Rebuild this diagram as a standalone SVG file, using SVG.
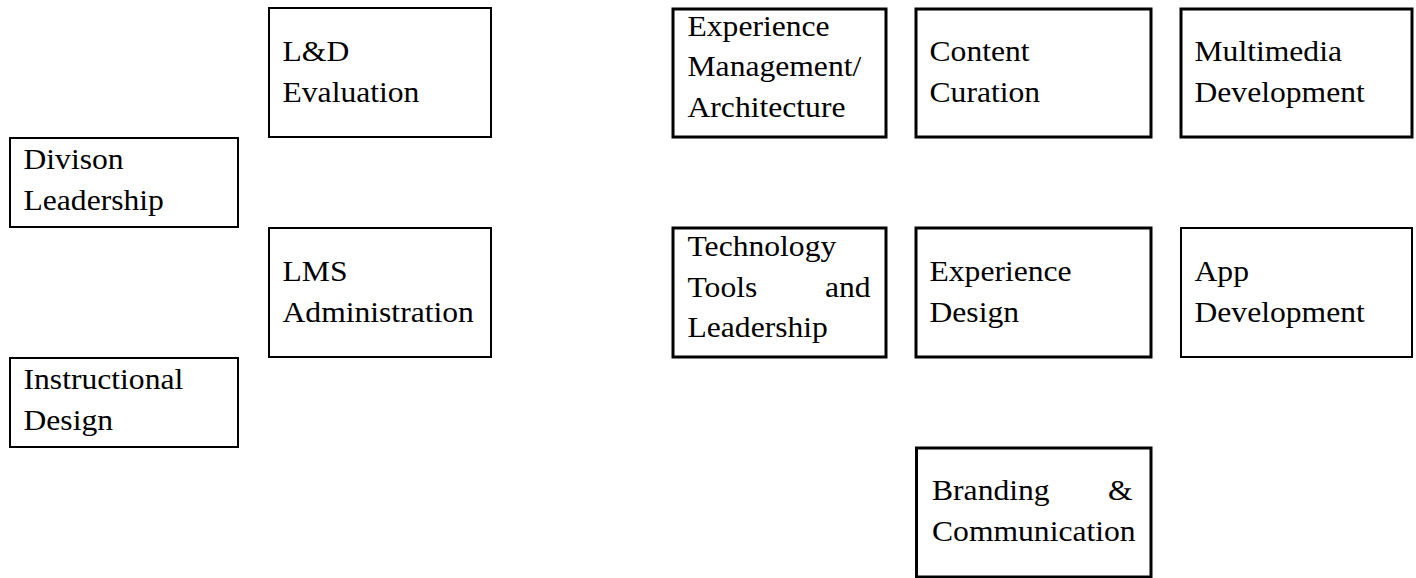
<svg xmlns="http://www.w3.org/2000/svg" width="1416" height="578" viewBox="0 0 1416 578">
  <style>
    .box { fill: #ffffff; stroke: #000000; }
    .thin { stroke-width: 2; }
    .thick { stroke-width: 3; }
    .label { font-family: "Liberation Serif", "Times New Roman", serif; font-size: 29px; fill: #000000; }
  </style>
  <rect width="1416" height="578" fill="#ffffff"/>

  <!-- left column: leadership and LMS units -->
  <g id="ld-evaluation">
    <rect class="box thin" x="269" y="8" width="222" height="129"/>
    <text class="label" transform="translate(282.5,0) scale(1.09,1)"><tspan x="0" y="61">L&amp;D</tspan><tspan x="0" y="102">Evaluation</tspan></text>
  </g>
  <g id="division-leadership">
    <rect class="box thin" x="10" y="138" width="228" height="89"/>
    <text class="label" transform="translate(23.5,0) scale(1.09,1)"><tspan x="0" y="169">Divison</tspan><tspan x="0" y="210">Leadership</tspan></text>
  </g>
  <g id="lms-administration">
    <rect class="box thin" x="269" y="228" width="222" height="129"/>
    <text class="label" transform="translate(282.5,0) scale(1.09,1)"><tspan x="0" y="281">LMS</tspan><tspan x="0" y="322">Administration</tspan></text>
  </g>
  <g id="instructional-design">
    <rect class="box thin" x="10" y="358" width="228" height="89"/>
    <text class="label" transform="translate(23.5,0) scale(1.09,1)"><tspan x="0" y="389">Instructional</tspan><tspan x="0" y="430">Design</tspan></text>
  </g>

  <!-- right grid: experience and development units -->
  <g id="experience-management">
    <rect class="box thick" x="673" y="9" width="213" height="128"/>
    <text class="label" transform="translate(687.5,0) scale(1.09,1)"><tspan x="0" y="36">Experience</tspan><tspan x="0" y="76.5">Management/</tspan><tspan x="0" y="117">Architecture</tspan></text>
  </g>
  <g id="content-curation">
    <rect class="box thick" x="916" y="9" width="235" height="128"/>
    <text class="label" transform="translate(929.5,0) scale(1.09,1)"><tspan x="0" y="61">Content</tspan><tspan x="0" y="102">Curation</tspan></text>
  </g>
  <g id="multimedia-development">
    <rect class="box thick" x="1181" y="9" width="231" height="128"/>
    <text class="label" transform="translate(1194.5,0) scale(1.09,1)"><tspan x="0" y="61">Multimedia</tspan><tspan x="0" y="102">Development</tspan></text>
  </g>
  <g id="technology-tools">
    <rect class="box thick" x="673" y="228" width="213" height="129"/>
    <text class="label" transform="translate(687.5,0) scale(1.09,1)"><tspan x="0" y="256">Technology</tspan><tspan x="0" y="297">Tools</tspan><tspan x="168" y="297" text-anchor="end">and</tspan><tspan x="0" y="337.5">Leadership</tspan></text>
  </g>
  <g id="experience-design">
    <rect class="box thick" x="916" y="228" width="235" height="129"/>
    <text class="label" transform="translate(929.5,0) scale(1.09,1)"><tspan x="0" y="281">Experience</tspan><tspan x="0" y="322">Design</tspan></text>
  </g>
  <g id="app-development">
    <rect class="box thin" x="1181" y="228" width="231" height="129"/>
    <text class="label" transform="translate(1194.5,0) scale(1.09,1)"><tspan x="0" y="281">App</tspan><tspan x="0" y="322">Development</tspan></text>
  </g>
  <g id="branding-communication">
    <rect class="box thick" x="916.5" y="448" width="234.5" height="129"/>
    <text class="label" transform="translate(932,0) scale(1.09,1)"><tspan x="0" y="500">Branding</tspan><tspan x="184" y="500" text-anchor="end">&amp;</tspan><tspan x="0" y="541">Communication</tspan></text>
  </g>

  <!-- no connectors are drawn between the units -->
  <g id="connectors"/>
</svg>
